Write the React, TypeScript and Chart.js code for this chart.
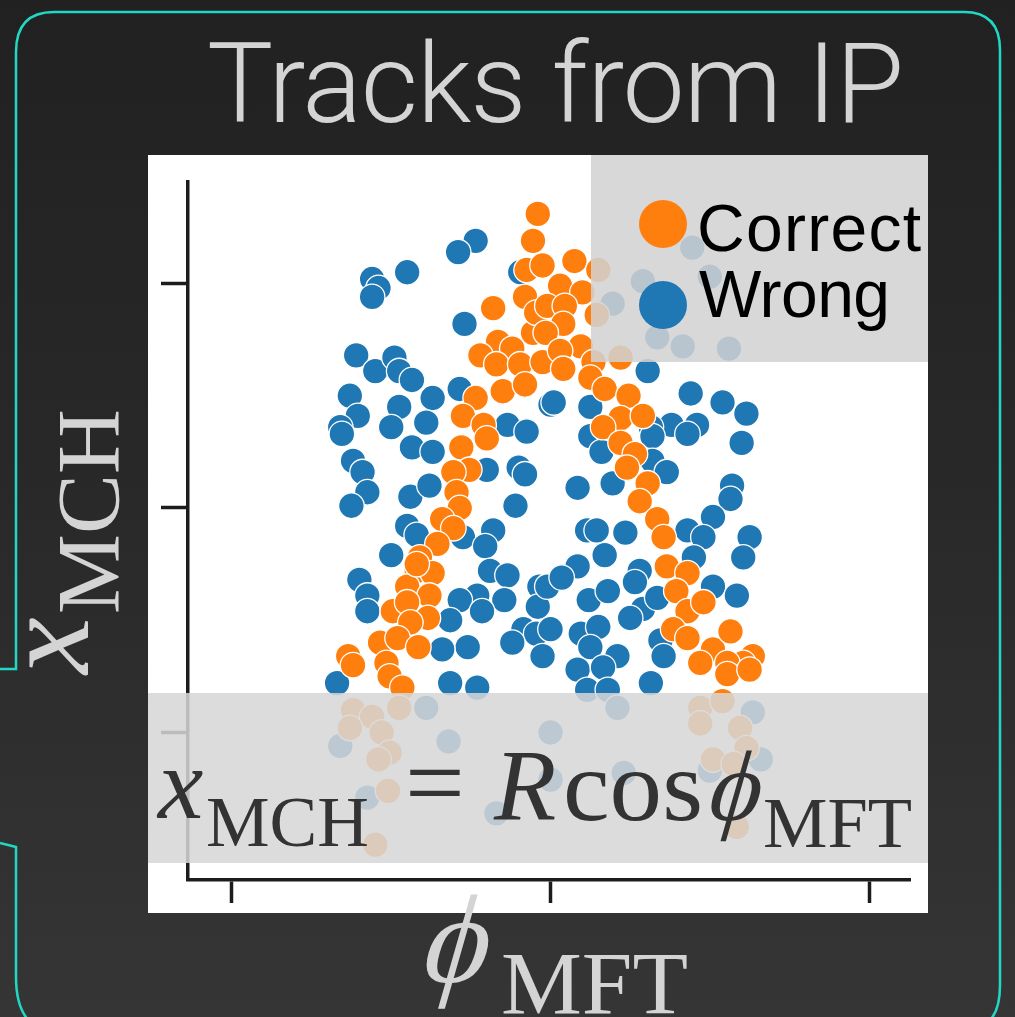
import React, { useEffect, useRef } from "react";
import { Chart, registerables } from "chart.js";

Chart.register(...registerables);

// phi_MFT (x) and x_MCH (y) of the "Wrong" matches
const wrongPhi = [
  -0.47, -0.58, -1.12, -1.08, -1.12, -0.9, -0.54, -1.22, -1.1, -0.98, -0.95, -0.87, -1.26, -1.21, -0.95, -0.74,
  -0.78, -1.32, -1.0, -0.57, -0.19, -0.27, -0.15, 0.0, 0.58, 0.39, 0.89, 1.0, 0.67, 0.83, 1.12, 0.61,
  0.88, 1.08, 1.23, 0.02, 0.25, 0.76, 0.92, 0.63, -1.31, -0.87, -0.74, -1.24, -1.18, -1.15, -1.25, -0.88,
  -0.76, -0.9, -0.84, -1.0, -1.2, -1.15, -1.15, -0.2, -0.16, -0.22, -0.4, -0.36, -0.55, -0.41, -0.38, -0.27,
  -0.46, -0.57, -0.29, -0.63, -0.43, -0.07, -0.08, -0.17, -0.09, -0.24, -0.52, -0.68, -0.05, 0.25, 0.32, 0.64,
  0.86, 1.2, 0.64, 0.73, 0.17, 0.39, 1.14, 1.13, 1.02, 1.25, 1.21, 0.86, 0.96, 0.9, 0.23, 0.29,
  0.47, 0.34, 0.17, 0.56, -0.02, 0.07, 0.24, 0.36, 0.53, 0.58, 0.5, 0.67, 1.02, 1.17, 0.0, 0.19,
  0.3, 0.25, 0.42, 0.69, 0.71, -1.34, -0.63, -0.46, 0.17, 0.33, 0.63, 0.23, 0.36, -0.78, -1.32, -0.64,
  -1.15, 0.0, -0.34, 0.42, 0.46, 0.0, 1.27, 1.0, 1.32,
];
const wrongXmch = [
  1.19, 1.14, 1.02, 0.98, 0.94, 1.05, 0.82, 0.68, 0.61, 0.67, 0.61, 0.57, 0.5, 0.41, 0.45, 0.49,
  0.38, 0.36, 0.36, 0.53, 1.05, 0.37, 0.34, 0.46, 1.01, 0.91, 1.16, 1.03, 0.76, 0.72, 0.71, 0.61,
  0.51, 0.47, 0.42, 0.47, 0.45, 0.37, 0.37, 0.36, 0.33, 0.27, 0.25, 0.21, 0.16, 0.07, 0.01, 0.05,
  0.1, -0.08, -0.12, -0.21, -0.32, -0.39, -0.46, 0.18, 0.15, 0.01, 0.17, -0.1, -0.13, -0.17, -0.28, -0.3,
  -0.39, -0.41, -0.41, -0.5, -0.46, -0.35, -0.44, -0.54, -0.56, -0.6, -0.62, -0.63, -0.66, 0.32, 0.25, 0.32,
  0.33, 0.29, 0.21, 0.16, 0.09, 0.11, 0.1, 0.04, -0.04, -0.13, -0.22, -0.1, -0.13, -0.22, -0.1, -0.1,
  -0.11, -0.21, -0.26, -0.28, -0.35, -0.31, -0.41, -0.37, -0.33, -0.45, -0.49, -0.4, -0.35, -0.39, -0.54, -0.56,
  -0.53, -0.62, -0.66, -0.59, -0.66, -0.78, -0.78, -0.8, -0.72, -0.71, -0.78, -0.81, -0.81, -0.89, -1.06, -1.04,
  -1.29, -1.0, -1.36, -0.89, -1.18, -1.21, -0.91, -1.17, -1.12,
];

// phi_MFT (x) and x_MCH (y) of the "Correct" matches
const correctPhi = [
  -0.08, -0.11, -0.15, -0.16, -0.36, -0.11, -0.33, -0.44, -0.24, -0.34, -0.19, -0.05, -0.47, -0.3, -0.16, -0.55,
  -0.42, -0.09, 0.15, -0.05, 0.06, 0.2, -0.02, 0.09, 0.08, -0.03, 0.19, 0.29, 0.3, 0.06, 0.08, 0.27,
  0.44, 0.25, 0.34, 0.49, 0.44, 0.58, 0.33, -0.4, -0.56, -0.51, -0.61, -0.59, -0.57, -0.68, -0.61, -0.71,
  -0.82, -0.84, -0.74, -0.9, -0.76, -0.99, -0.9, -0.77, -0.88, -1.07, -0.96, -0.83, -1.27, -1.24, -1.03, -0.84,
  -1.01, -0.93, 0.44, 0.53, 0.48, 0.61, 0.56, 0.67, 0.71, 0.73, 0.86, 0.79, 0.86, 0.96, 0.77, 0.86,
  1.02, 1.13, 1.27, 1.21, 1.11, 0.94, 1.11, 1.25, -1.24, -1.12, -0.95, -1.26, -1.06, -1.01, -1.08, -1.02,
  -1.1, 0.94, 1.08, 0.94, 1.19, 1.23, 1.02, 1.15, 1.17,
];
const correctXmch = [
  1.31, 1.19, 1.06, 0.94, 0.89, 0.78, 0.74, 0.68, 0.71, 0.64, 0.64, 0.65, 0.49, 0.52, 0.55, 0.41,
  0.37, 0.87, 1.1, 1.08, 0.99, 0.96, 0.9, 0.9, 0.82, 0.78, 0.72, 0.86, 1.06, 0.7, 0.62, 0.65,
  0.67, 0.58, 0.53, 0.5, 0.4, 0.41, 0.36, 0.31, 0.27, 0.17, 0.16, 0.07, 0.0, -0.05, -0.09, -0.16,
  -0.22, -0.28, -0.29, -0.35, -0.39, -0.46, -0.42, -0.49, -0.51, -0.6, -0.58, -0.62, -0.66, -0.7, -0.69, -0.25,
  -0.75, -0.8, 0.29, 0.24, 0.18, 0.11, 0.03, -0.05, -0.13, -0.26, -0.29, -0.37, -0.46, -0.42, -0.54, -0.58,
  -0.63, -0.55, -0.66, -0.69, -0.69, -0.69, -0.74, -0.72, -0.9, -0.93, -0.89, -0.98, -1.0, -1.09, -1.12, -1.26,
  -1.5, -0.89, -0.86, -0.96, -0.98, -1.07, -1.12, -1.14, -1.42,
];

const xTicks = [-2, 0, 2];
const yTicks = [-1, 0, 1];
const seriesNames = ["Correct", "Wrong"];
const ORANGE = "#ff7f0e";
const BLUE = "#1f77b4";

const SPINE = "#1c1c1c";
const LABEL = "#d4d4d4";
const SERIF = "'Liberation Serif', 'DejaVu Serif', serif";
const SANS = "'Liberation Sans', Arial, sans-serif";

function toPoints(xs: number[], ys: number[]) {
  return xs.map((x, i) => ({ x, y: ys[i] }));
}

export default function App() {
  const canvasRef = useRef<HTMLCanvasElement>(null);

  useEffect(() => {
    const canvas = canvasRef.current;
    if (!canvas) return;
    const pointStyle = {
      borderColor: "#ffffff",
      borderWidth: 1.3,
      pointRadius: 12.8,
      pointHoverRadius: 12.8,
    };
    const chart = new Chart(canvas, {
      type: "scatter",
      data: {
        datasets: [
          { label: seriesNames[0], data: toPoints(correctPhi, correctXmch), backgroundColor: ORANGE, ...pointStyle },
          { label: seriesNames[1], data: toPoints(wrongPhi, wrongXmch), backgroundColor: BLUE, ...pointStyle },
        ],
      },
      options: {
        animation: false,
        responsive: false,
        maintainAspectRatio: false,
        devicePixelRatio: 1,
        events: [],
        layout: { padding: { left: 13, top: 27, right: 18, bottom: 10 } },
        plugins: { legend: { display: false }, tooltip: { enabled: false }, title: { display: false } },
        scales: {
          x: {
            type: "linear",
            min: -2.276,
            max: 2.257,
            afterBuildTicks: (s: any) => {
              s.ticks = xTicks.map((v) => ({ value: v }));
            },
            ticks: { display: false },
            grid: { drawOnChartArea: false, drawTicks: true, tickLength: 23, tickWidth: 3.5, color: SPINE },
            border: { display: true, width: 3.5, color: SPINE },
          },
          y: {
            type: "linear",
            min: -1.657,
            max: 1.452,
            afterBuildTicks: (s: any) => {
              s.ticks = yTicks.map((v) => ({ value: v }));
            },
            ticks: { display: false },
            grid: { drawOnChartArea: false, drawTicks: true, tickLength: 27, tickWidth: 3.5, color: SPINE },
            border: { display: true, width: 3.5, color: SPINE },
          },
        },
      },
    } as any);
    return () => chart.destroy();
  }, []);

  return (
    <div
      style={{
        position: "fixed",
        left: 0,
        top: 0,
        width: 1015,
        height: 1017,
        overflow: "hidden",
        background: "linear-gradient(180deg, #212121 0%, #282828 45%, #353535 100%)",
      }}
    >
      <div style={{ position: "absolute", left: 148, top: 155, width: 780, height: 758, background: "#ffffff" }}>
        <canvas ref={canvasRef} width={780} height={758} style={{ width: 780, height: 758, display: "block" }} />
      </div>
      <svg
        width={1015}
        height={1017}
        viewBox="0 0 1015 1017"
        style={{ position: "absolute", left: 0, top: 0, pointerEvents: "none" }}
      >
        {/* frame */}
        <g fill="none" stroke="#22d8c5" strokeWidth={2.5}>
          <path d="M 0 669 H 16 V 52 Q 16 12 54 12 H 964 Q 1000 12 1000 50 V 985 Q 1000 1012 988 1022" />
          <path d="M 0 843 L 16 847 V 977 Q 16 1008 30 1022" />
        </g>

        {/* title */}
        <text
          x={207}
          y={122}
          fill={LABEL}
          fontFamily="Roboto, 'Noto Sans', sans-serif"
          fontWeight={300}
          fontSize={111}
          textLength={697}
          lengthAdjust="spacing"
        >
          Tracks from IP
        </text>

        {/* legend */}
        <rect x={591} y={155} width={337} height={207} fill="rgb(210,210,210)" fillOpacity={0.86} />
        <circle cx={663} cy={224} r={24} fill={ORANGE} />
        <circle cx={663} cy={305} r={24} fill={BLUE} />
        <text x={697} y={251} fontFamily={SANS} fontSize={66} fill="#000" textLength={224} lengthAdjust="spacing">
          {seriesNames[0]}
        </text>
        <text x={699} y={317} fontFamily={SANS} fontSize={66} fill="#000" textLength={191} lengthAdjust="spacing">
          {seriesNames[1]}
        </text>

        {/* formula box */}
        <rect x={148} y={693} width={780} height={170} fill="rgb(214,214,214)" fillOpacity={0.86} />
        <g fill="#333333" fontFamily={SERIF}>
          <text x={158} y={818} fontSize={102} fontStyle="italic">x</text>
          <text x={206} y={846} fontSize={72} textLength={163} lengthAdjust="spacingAndGlyphs">MCH</text>
          <text x={405} y={818} fontSize={106}>=</text>
          <text x={494} y={820} fontSize={102} fontStyle="italic">R</text>
          <text x={563} y={820} fontSize={102} textLength={140} lengthAdjust="spacingAndGlyphs">cos</text>
          <g transform="translate(703, 820) skewX(-16)">
            <text x={0} y={0} fontSize={100}>ϕ</text>
          </g>
          <text x={763} y={847} fontSize={72} textLength={149} lengthAdjust="spacingAndGlyphs">MFT</text>
        </g>

        {/* y axis label */}
        <g transform="translate(88, 674) rotate(-90)" fill={LABEL} fontFamily={SERIF}>
          <text x={0} y={0} fontSize={128} fontStyle="italic">x</text>
          <text x={60} y={30} fontSize={88} textLength={205} lengthAdjust="spacingAndGlyphs">MCH</text>
        </g>

        {/* x axis label */}
        <g fill={LABEL} fontFamily={SERIF}>
          <g transform="translate(416, 982) skewX(-16)">
            <text x={0} y={0} fontSize={126}>ϕ</text>
          </g>
          <text x={501} y={1013} fontSize={88} textLength={187} lengthAdjust="spacingAndGlyphs">MFT</text>
        </g>
      </svg>
    </div>
  );
}
